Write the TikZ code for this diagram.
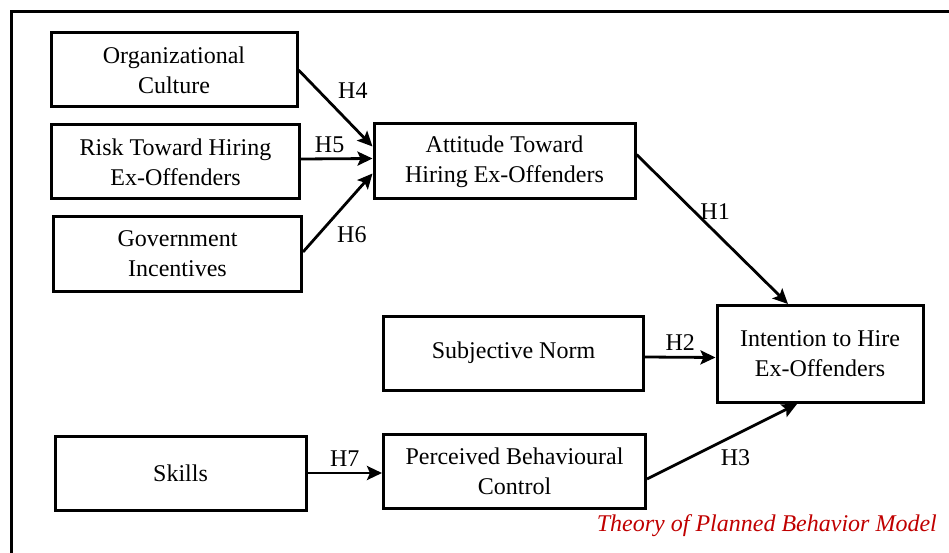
\documentclass[tikz,border=0pt]{standalone}
\usepackage{fontspec}
\setmainfont{Liberation Serif}
\usetikzlibrary{arrows.meta}
\definecolor{tpbred}{RGB}{192,0,0}
\begin{document}
\begin{tikzpicture}[x=1pt,y=-1pt]
  \tikzset{
  box/.style={draw,line width=3pt,inner sep=0pt,align=center,
    font=\fontsize{24}{30}\selectfont},
  hyp/.style={inner sep=5pt,font=\fontsize{24}{30}\selectfont},
  arr/.style={line width=2.8pt,-{Stealth[length=15pt,width=14pt,inset=3pt]}},
  }
  \useasboundingbox (0,0) rectangle (949,553);
  \clip (0,0) rectangle (949,553);
  % the frame
  \draw[line width=3.5pt] (11.5,11.5) rectangle (980,590);

  % the boxes
  \node[box,minimum width=246pt,minimum height=74pt] (org) at (174,70) {Organizational\\Culture};
  \node[box,minimum width=248pt,minimum height=74pt] (risk) at (175.5,162) {Risk Toward Hiring\\Ex-Offenders};
  \node[box,minimum width=248pt,minimum height=74pt] (gov) at (177.5,254) {Government\\Incentives};
  \node[box,minimum width=261pt,minimum height=75pt] (att) at (504.5,161.5) {Attitude Toward\\Hiring Ex-Offenders};

  \node[box,minimum width=206pt,minimum height=97pt] (int) at (820,354) {Intention to Hire\\Ex-Offenders};
  \node[box,minimum width=260pt,minimum height=74pt] (sn) at (513.5,353) {Subjective Norm};

  \node[box,minimum width=251pt,minimum height=74pt] (skl) at (180.5,473) {Skills};
  \node[box,minimum width=262pt,minimum height=74pt] (pbc) at (514.5,471) {Perceived Behavioural\\Control};

  % the hypotheses
  \draw[arr] (org.east) -- ([yshift=15pt]att.west) node [pos=.45, above right, hyp] {H4};
  \draw[arr] ([yshift=3pt]risk.east) -- ([yshift=3pt]att.west) node [pos=.4, above, hyp] {H5};
  \draw[arr] ([yshift=2pt]gov.east) -- ([yshift=-12pt]att.west) node [pos=.4, below right, hyp] {H6};
  \draw[arr] ([yshift=7pt]att.east) -- ([xshift=-32pt]int.north) node [pos=.38, right, hyp] {H1};
  \draw[arr] ([yshift=-4pt]sn.east) -- ([yshift=-3.5pt]int.west) node [midway, above, hyp] {H2};
  \draw[arr] ([yshift=-8pt]pbc.east) -- ([xshift=-23pt]int.south) node [pos=.59, below=8pt, hyp] {H3};
  \draw[arr] (skl.east) -- (skl.east -| pbc.west) node [midway, above, hyp] {H7};

  % the caption
  \node[anchor=base east,inner sep=0pt,text=tpbred,font=\fontsize{24}{30}\selectfont\itshape] (cap) at (937,531.5) {Theory of Planned Behavior Model};
\end{tikzpicture}
\end{document}
